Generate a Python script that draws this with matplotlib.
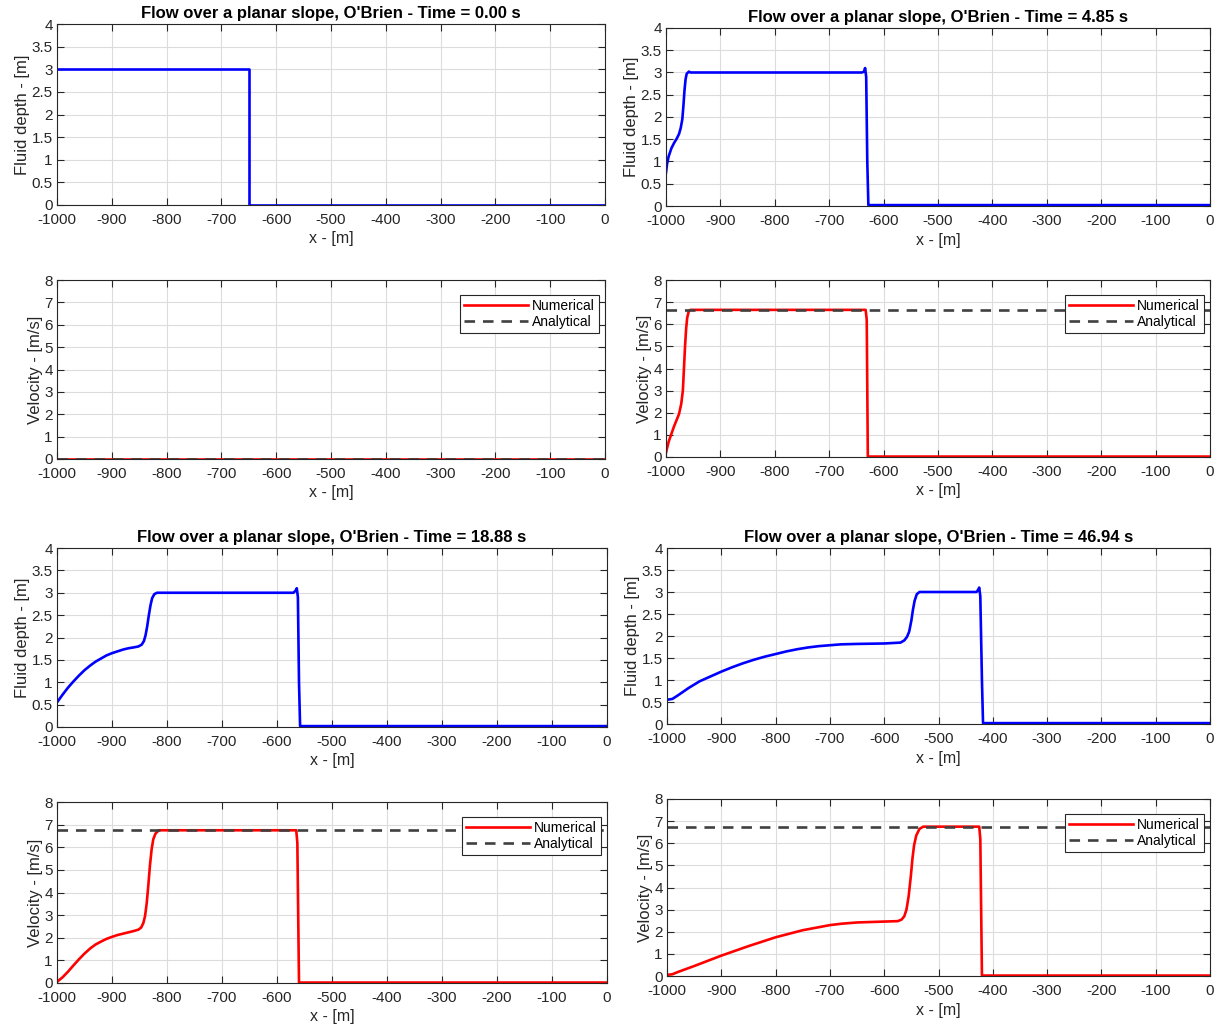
import matplotlib
matplotlib.use('Agg')
import matplotlib.pyplot as plt

plt.rcParams['font.family'] = ['Liberation Sans', 'DejaVu Sans']

W, H = 1220, 1030

# snapshot times
times = [0.00, 4.85, 18.88, 46.94]

# fluid depth profiles (x in m, h in m)
x_h0 = [-1000, -650, -650, 0]
h0 = [3.0, 3.0, 0.0, 0.0]

x_h1 = [-1000, -998, -995, -990, -985, -980, -976, -973, -970, -968, -966,
        -964, -962, -958, -955, -640, -636, -634, -632, -630, -628, 0]
h1 = [0.75, 0.95, 1.12, 1.3, 1.42, 1.52, 1.62, 1.75, 1.95, 2.25, 2.6,
      2.85, 2.97, 3.02, 3.0, 3.0, 3.02, 3.1, 2.9, 1.0, 0.02, 0.02]

x_h2 = [-1000, -990, -980, -970, -960, -950, -940, -930, -920, -910, -900,
        -890, -880, -870, -860, -852, -846, -842, -839, -836, -833, -830,
        -827, -823, -818, -570, -566, -564, -562, -560, -558, 0]
h2 = [0.55, 0.72, 0.88, 1.02, 1.15, 1.27, 1.37, 1.46, 1.53, 1.6, 1.65,
      1.69, 1.73, 1.76, 1.78, 1.8, 1.84, 1.92, 2.05, 2.25, 2.5, 2.72,
      2.88, 2.97, 3.0, 3.0, 3.05, 3.1, 2.9, 1.0, 0.02, 0.02]

x_h3 = [-1000, -990, -980, -960, -940, -920, -900, -880, -860, -840, -820,
        -800, -780, -760, -740, -720, -700, -680, -650, -600, -570, -563,
        -558, -554, -550, -547, -544, -540, -535, -430, -427, -425, -423,
        -420, -418, 0]
h3 = [0.55, 0.57, 0.65, 0.82, 0.97, 1.08, 1.19, 1.29, 1.38, 1.46, 1.53,
      1.59, 1.65, 1.7, 1.74, 1.77, 1.79, 1.81, 1.82, 1.83, 1.85, 1.9,
      1.98, 2.1, 2.35, 2.6, 2.8, 2.95, 3.0, 3.0, 3.05, 3.1, 2.9,
      1.0, 0.02, 0.02]

# velocity profiles (x in m, u in m/s)
x_u0 = [-1000, 0]
u0 = [0.0, 0.0]

x_u1 = [-1000, -995, -990, -985, -980, -976, -972, -969, -967, -965, -963,
        -961, -958, -955, -633, -631, -629, 0]
u1 = [0.2, 0.7, 1.05, 1.4, 1.7, 1.95, 2.4, 3.0, 4.0, 5.0, 5.8,
      6.3, 6.6, 6.65, 6.65, 6.2, 0.02, 0.02]

x_u2 = [-1000, -990, -980, -970, -960, -950, -940, -930, -920, -910, -900,
        -890, -880, -870, -860, -852, -847, -843, -840, -837, -834, -831,
        -828, -825, -821, -815, -565, -563, -560, 0]
u2 = [0.05, 0.25, 0.5, 0.78, 1.05, 1.3, 1.52, 1.7, 1.83, 1.95, 2.04,
      2.12, 2.18, 2.24, 2.3, 2.36, 2.45, 2.65, 2.95, 3.5, 4.3, 5.2,
      5.9, 6.35, 6.6, 6.75, 6.75, 6.2, 0.02, 0.02]

x_u3 = [-1000, -990, -980, -950, -900, -850, -800, -750, -700, -680, -650,
        -600, -575, -568, -563, -559, -555, -551, -548, -545, -541, -535,
        -528, -425, -423, -420, 0]
u3 = [0.05, 0.08, 0.18, 0.45, 0.92, 1.35, 1.75, 2.07, 2.3, 2.36, 2.42,
      2.46, 2.48, 2.55, 2.7, 3.0, 3.6, 4.5, 5.3, 5.9, 6.35, 6.65,
      6.75, 6.75, 6.2, 0.02, 0.02]

# analytical uniform-flow velocity
u_analytical = [0.0, 6.65, 6.75, 6.75]

depth_data = [(x_h0, h0), (x_h1, h1), (x_h2, h2), (x_h3, h3)]
vel_data = [(x_u0, u0), (x_u1, u1), (x_u2, u2), (x_u3, u3)]

xticks = list(range(-1000, 1, 100))

# axes boxes in pixels: left, top, right, bottom
depth_boxes = [(57, 24, 605, 205), (666, 28, 1210, 206),
               (57, 548, 607, 727), (667, 548, 1210, 724)]
vel_boxes = [(57, 280, 605, 459), (666, 280, 1210, 457),
             (57, 802, 607, 983), (667, 799, 1210, 976)]


def Rect(box):
    l, t, r, b = box
    return [l / W, 1 - b / H, (r - l) / W, (b - t) / H]


def StyleAxes(ax, ymax, ystep):
    ax.set_xlim(-1000, 0)
    ax.set_ylim(0, ymax)
    ax.set_xticks(xticks)
    ax.set_xticklabels([str(v) for v in xticks])
    yt = [i * ystep for i in range(int(round(ymax / ystep)) + 1)]
    ax.set_yticks(yt)
    ax.set_yticklabels(['%g' % v for v in yt])
    ax.grid(True, color='#dcdcdc', linewidth=0.8)
    ax.set_axisbelow(True)
    ax.tick_params(direction='in', top=True, right=True, length=5,
                   labelsize=11, colors='#262626')
    ax.tick_params(axis='x', pad=6)
    ax.tick_params(axis='y', pad=3)
    for s in ax.spines.values():
        s.set_color('#262626')
        s.set_linewidth(0.8)
    ax.set_xlabel('x - [m]', fontsize=11.5, color='#262626', labelpad=3)


fig = plt.figure(figsize=(W / 100, H / 100), dpi=100)

for i in range(4):
    ax = fig.add_axes(Rect(depth_boxes[i]))
    x, h = depth_data[i]
    ax.plot(x, h, color='#0000ff', linewidth=1.9)
    StyleAxes(ax, 4, 0.5)
    ax.set_ylabel('Fluid depth - [m]', fontsize=12, color='#262626',
                  labelpad=1)
    ax.set_title("Flow over a planar slope, O'Brien - Time = %.2f s" % times[i],
                 fontsize=12, fontweight='bold', pad=4)

    l, t, r, b = vel_boxes[i]
    ax = fig.add_axes(Rect(vel_boxes[i]))
    x, u = vel_data[i]
    ax.plot(x, u, color='#ff0000', linewidth=1.9, label='Numerical')
    ax.plot([-1000, 0], [u_analytical[i]] * 2, color='#404040',
            linewidth=1.9, linestyle=(0, (4, 3)), label='Analytical')
    StyleAxes(ax, 8, 1)
    ax.set_ylabel('Velocity - [m/s]', fontsize=12, color='#262626',
                  labelpad=1)
    anchor = (1 - 6 / (r - l), 1 - 15 / (b - t))
    leg = ax.legend(loc='upper right', bbox_to_anchor=anchor, fontsize=10,
                    fancybox=False, framealpha=1, edgecolor='#262626',
                    handlelength=4.6, borderaxespad=0, labelspacing=0.15,
                    borderpad=0.3, handletextpad=0.3)
    leg.get_frame().set_linewidth(0.8)

fig.savefig('out.png', dpi=100)
